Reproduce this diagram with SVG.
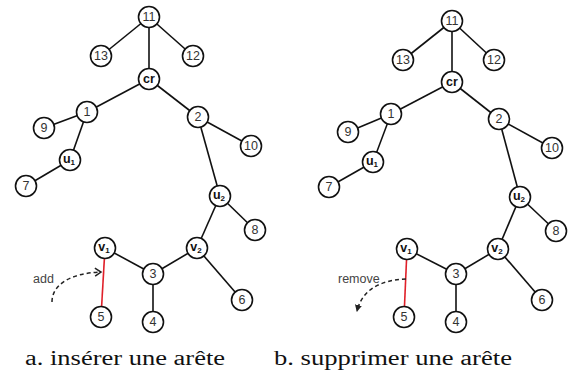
<svg xmlns="http://www.w3.org/2000/svg" width="580" height="378" viewBox="0 0 580 378">
<style>
.e{stroke:#111;stroke-width:1.6;fill:none}
.r{stroke:#e0202a;stroke-width:1.6;fill:none}
.n circle{fill:#fff;stroke:#111;stroke-width:1.6}
.n text{font-family:"Liberation Sans",Arial,sans-serif;font-size:12.5px;fill:#333;text-anchor:middle;dominant-baseline:central}
.b text{font-weight:bold;fill:#111}
.s{font-size:8px}
.lab{font-family:"Liberation Sans",Arial,sans-serif;font-size:12.5px;fill:#444}
.cap{font-family:"Liberation Serif","Times New Roman",serif;font-size:20px;fill:#111}
.d{stroke:#222;stroke-width:1.5;fill:none;stroke-dasharray:4 3}
</style>
<defs>
<marker id="open" markerWidth="10" markerHeight="10" refX="8" refY="5" orient="auto" markerUnits="userSpaceOnUse"><path d="M2,1 L8,5 L2,9" fill="none" stroke="#222" stroke-width="1.5"/></marker>
<marker id="fill" markerWidth="8" markerHeight="8" refX="6" refY="4" orient="auto" markerUnits="userSpaceOnUse"><path d="M0,0.5 L7,4 L0,7.5 Z" fill="#222"/></marker>
</defs>
<g id="connectors">
<line class="e" x1="149" y1="17" x2="101" y2="56"/>
<line class="e" x1="149" y1="17" x2="193" y2="56"/>
<line class="e" x1="149" y1="17" x2="149" y2="79"/>
<line class="e" x1="149" y1="79" x2="87" y2="112"/>
<line class="e" x1="149" y1="79" x2="198" y2="117"/>
<line class="e" x1="87" y1="112" x2="44" y2="128"/>
<line class="e" x1="87" y1="112" x2="70" y2="160"/>
<line class="e" x1="70" y1="160" x2="26" y2="186"/>
<line class="e" x1="198" y1="117" x2="251" y2="146"/>
<line class="e" x1="198" y1="117" x2="220" y2="196"/>
<line class="e" x1="220" y1="196" x2="255" y2="230"/>
<line class="e" x1="220" y1="196" x2="197" y2="248"/>
<line class="e" x1="197" y1="248" x2="242" y2="300"/>
<line class="e" x1="197" y1="248" x2="153" y2="274"/>
<line class="e" x1="153" y1="274" x2="105" y2="248"/>
<line class="e" x1="153" y1="274" x2="153" y2="322"/>
<line class="r" x1="105" y1="248" x2="101" y2="317"/>
<path class="d" d="M52,302 C52,285 70,273 101,272" marker-end="url(#open)"/>

<line class="e" x1="452" y1="21" x2="403" y2="60"/>
<line class="e" x1="452" y1="21" x2="494" y2="60"/>
<line class="e" x1="452" y1="21" x2="452" y2="82"/>
<line class="e" x1="452" y1="82" x2="391" y2="114"/>
<line class="e" x1="452" y1="82" x2="499" y2="119"/>
<line class="e" x1="391" y1="114" x2="348" y2="132"/>
<line class="e" x1="391" y1="114" x2="373" y2="162"/>
<line class="e" x1="373" y1="162" x2="329" y2="187"/>
<line class="e" x1="499" y1="119" x2="552" y2="148"/>
<line class="e" x1="499" y1="119" x2="520" y2="197"/>
<line class="e" x1="520" y1="197" x2="556" y2="231"/>
<line class="e" x1="520" y1="197" x2="498" y2="249"/>
<line class="e" x1="498" y1="249" x2="542" y2="300"/>
<line class="e" x1="498" y1="249" x2="456" y2="274"/>
<line class="e" x1="456" y1="274" x2="407" y2="249"/>
<line class="e" x1="456" y1="274" x2="456" y2="322"/>
<line class="r" x1="407" y1="249" x2="404" y2="317"/>
<path class="d" d="M406,279 C380,280 362,290 357,311" marker-end="url(#fill)"/>
</g>
<g id="a-n11" class="n"><circle cx="149" cy="17" r="10.5"/><text x="149" y="17">11</text></g>
<g id="a-n13" class="n"><circle cx="101" cy="56" r="10.5"/><text x="101" y="56">13</text></g>
<g id="a-n12" class="n"><circle cx="193" cy="56" r="10.5"/><text x="193" y="56">12</text></g>
<g id="a-cr" class="n b"><circle cx="149" cy="79" r="10.5"/><text x="149" y="79">cr</text></g>
<g id="a-n1" class="n"><circle cx="87" cy="112" r="10.5"/><text x="87" y="112">1</text></g>
<g id="a-n9" class="n"><circle cx="44" cy="128" r="10.5"/><text x="44" y="128">9</text></g>
<g id="a-n2" class="n"><circle cx="198" cy="117" r="10.5"/><text x="198" y="117">2</text></g>
<g id="a-n10" class="n"><circle cx="251" cy="146" r="10.5"/><text x="251" y="146">10</text></g>
<g id="a-u1" class="n b"><circle cx="70" cy="160" r="10.5"/><text x="69" y="159">u<tspan class="s" dy="3">1</tspan></text></g>
<g id="a-n7" class="n"><circle cx="26" cy="186" r="10.5"/><text x="26" y="186">7</text></g>
<g id="a-u2" class="n b"><circle cx="220" cy="196" r="10.5"/><text x="219" y="195">u<tspan class="s" dy="3">2</tspan></text></g>
<g id="a-n8" class="n"><circle cx="255" cy="230" r="10.5"/><text x="255" y="230">8</text></g>
<g id="a-v1" class="n b"><circle cx="105" cy="248" r="10.5"/><text x="104" y="247">v<tspan class="s" dy="3">1</tspan></text></g>
<g id="a-v2" class="n b"><circle cx="197" cy="248" r="10.5"/><text x="196" y="247">v<tspan class="s" dy="3">2</tspan></text></g>
<g id="a-n3" class="n"><circle cx="153" cy="274" r="10.5"/><text x="153" y="274">3</text></g>
<g id="a-n6" class="n"><circle cx="242" cy="300" r="10.5"/><text x="242" y="300">6</text></g>
<g id="a-n5" class="n"><circle cx="101" cy="317" r="10.5"/><text x="101" y="317">5</text></g>
<g id="a-n4" class="n"><circle cx="153" cy="322" r="10.5"/><text x="153" y="322">4</text></g>
<text class="lab" x="33" y="283">add</text>

<g id="b-n11" class="n"><circle cx="452" cy="21" r="10.5"/><text x="452" y="21">11</text></g>
<g id="b-n13" class="n"><circle cx="403" cy="60" r="10.5"/><text x="403" y="60">13</text></g>
<g id="b-n12" class="n"><circle cx="494" cy="60" r="10.5"/><text x="494" y="60">12</text></g>
<g id="b-cr" class="n b"><circle cx="452" cy="82" r="10.5"/><text x="452" y="82">cr</text></g>
<g id="b-n1" class="n"><circle cx="391" cy="114" r="10.5"/><text x="391" y="114">1</text></g>
<g id="b-n9" class="n"><circle cx="348" cy="132" r="10.5"/><text x="348" y="132">9</text></g>
<g id="b-n2" class="n"><circle cx="499" cy="119" r="10.5"/><text x="499" y="119">2</text></g>
<g id="b-n10" class="n"><circle cx="552" cy="148" r="10.5"/><text x="552" y="148">10</text></g>
<g id="b-u1" class="n b"><circle cx="373" cy="162" r="10.5"/><text x="372" y="161">u<tspan class="s" dy="3">1</tspan></text></g>
<g id="b-n7" class="n"><circle cx="329" cy="187" r="10.5"/><text x="329" y="187">7</text></g>
<g id="b-u2" class="n b"><circle cx="520" cy="197" r="10.5"/><text x="519" y="196">u<tspan class="s" dy="3">2</tspan></text></g>
<g id="b-n8" class="n"><circle cx="556" cy="231" r="10.5"/><text x="556" y="231">8</text></g>
<g id="b-v1" class="n b"><circle cx="407" cy="249" r="10.5"/><text x="406" y="248">v<tspan class="s" dy="3">1</tspan></text></g>
<g id="b-v2" class="n b"><circle cx="498" cy="249" r="10.5"/><text x="497" y="248">v<tspan class="s" dy="3">2</tspan></text></g>
<g id="b-n3" class="n"><circle cx="456" cy="274" r="10.5"/><text x="456" y="274">3</text></g>
<g id="b-n6" class="n"><circle cx="542" cy="300" r="10.5"/><text x="542" y="300">6</text></g>
<g id="b-n5" class="n"><circle cx="404" cy="317" r="10.5"/><text x="404" y="317">5</text></g>
<g id="b-n4" class="n"><circle cx="456" cy="322" r="10.5"/><text x="456" y="322">4</text></g>
<text class="lab" x="338" y="283">remove</text>

<text class="cap" x="25" y="365" textLength="200" lengthAdjust="spacingAndGlyphs">a. insérer une arête</text>
<text class="cap" x="274" y="365" textLength="238" lengthAdjust="spacingAndGlyphs">b. supprimer une arête</text>
</svg>
